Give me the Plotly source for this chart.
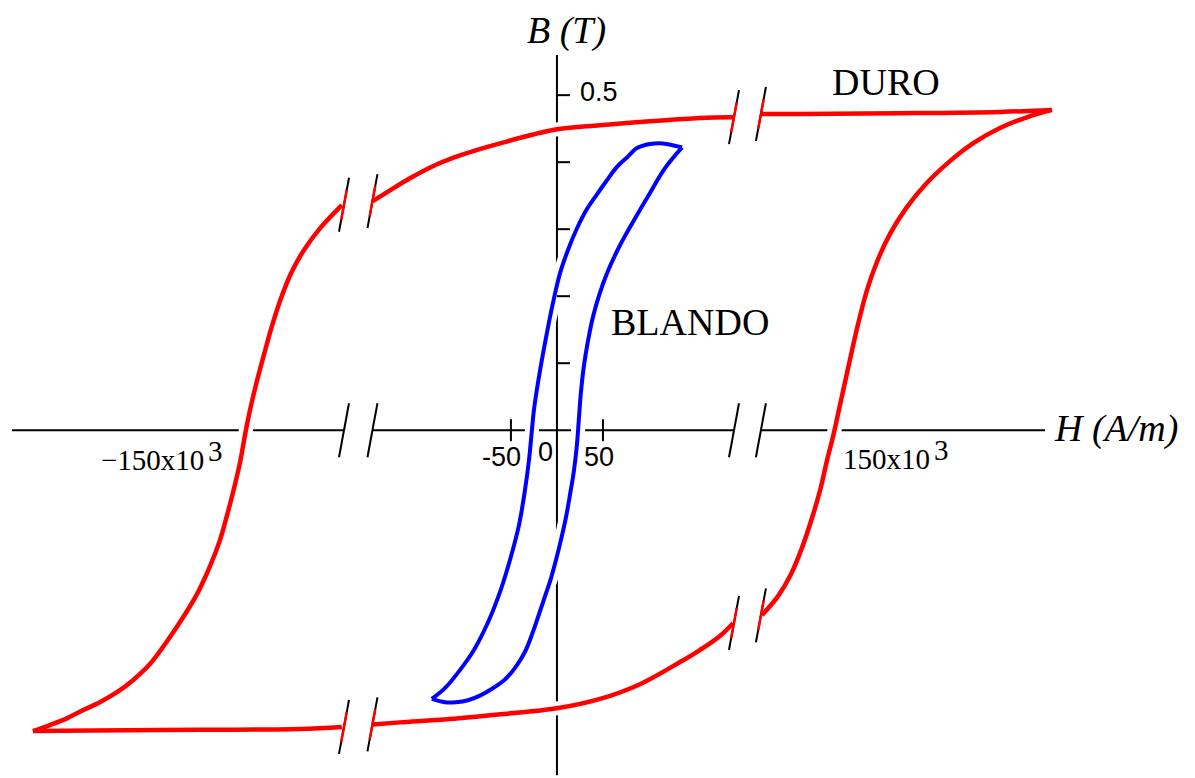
import numpy as np
import plotly.graph_objects as go

# ---- hard material (DURO): H in kA/m, B in T ----
# descending branch, from positive saturation to negative saturation
HARD_DOWN_H = [253.8, 227.2, 175.9, 124.6, 105.1, 90.3, 73.3, 47.7, 22.1, 0.0,
               -29.2, -49.7, -63.6, -75.4, -85.6, -94.4, -110.3, -121.0, -129.7,
               -136.4, -141.5, -146.2, -150.3, -154.4, -157.4, -159.7, -162.3,
               -165.6, -169.0, -172.8, -177.9, -184.1, -190.8, -199.5, -208.7,
               -217.4, -225.6, -234.4, -243.1, -251.3, -260.0, -268.7]
HARD_DOWN_B = [0.478, 0.475, 0.473, 0.472, 0.472, 0.467, 0.466, 0.461, 0.455, 0.449,
               0.428, 0.410, 0.394, 0.376, 0.358, 0.342, 0.336, 0.303, 0.269,
               0.234, 0.197, 0.155, 0.112, 0.067, 0.030, -0.003, -0.045,
               -0.087, -0.125, -0.164, -0.203, -0.242, -0.275, -0.313, -0.349,
               -0.373, -0.391, -0.406, -0.418, -0.430, -0.440, -0.449]
# ascending branch, from negative saturation to positive saturation
HARD_UP_H = [-268.7, -237.9, -183.1, -131.8, -110.3, -94.4, -80.5, -54.9, -29.2, 0.0,
             22.1, 42.6, 63.1, 73.3, 83.6, 90.3, 105.1, 113.3, 120.0, 125.6,
             130.8, 134.9, 138.5, 142.1, 145.1, 148.2, 151.3, 154.9, 159.0,
             164.1, 170.8, 179.0, 188.7, 200.5, 213.3, 227.2, 241.0, 253.8]
HARD_UP_B = [-0.449, -0.448, -0.447, -0.446, -0.443, -0.439, -0.436, -0.431, -0.424, -0.415,
             -0.401, -0.379, -0.346, -0.328, -0.307, -0.288, -0.276, -0.248, -0.215, -0.176,
             -0.131, -0.090, -0.045, -0.003, 0.037, 0.078, 0.119, 0.164, 0.209,
             0.251, 0.293, 0.331, 0.366, 0.399, 0.428, 0.451, 0.467, 0.478]

# ---- soft material (BLANDO): H in A/m, B in T ----
SOFT_DOWN_H = [135.9, 115.2, 101.1, 87.0, 76.1, 65.2, 54.3, 43.5, 32.6, 21.7,
               12.0, 3.3, -4.3, -13.0, -20.7, -25.0, -27.2, -30.4, -34.8, -41.3,
               -51.1, -62.0, -75.0, -90.2, -105.4, -121.7, -135.9]
SOFT_DOWN_B = [0.422, 0.428, 0.427, 0.421, 0.407, 0.393, 0.373, 0.352, 0.330, 0.301,
               0.269, 0.234, 0.190, 0.130, 0.070, 0.030, 0.0, -0.045, -0.090, -0.142,
               -0.194, -0.242, -0.287, -0.328, -0.358, -0.385, -0.401]
SOFT_UP_H = [-135.9, -121.7, -109.8, -96.7, -83.7, -69.6, -56.5, -45.7, -34.8, -26.1,
             -19.6, -13.0, -6.5, -1.1, 4.3, 9.8, 14.1, 18.5, 21.7, 23.9,
             26.1, 29.3, 33.7, 39.1, 45.7, 54.3, 68.5, 84.8, 101.1, 117.4, 135.9]
SOFT_UP_B = [-0.401, -0.406, -0.406, -0.403, -0.396, -0.385, -0.372, -0.355, -0.331, -0.301,
             -0.275, -0.248, -0.221, -0.194, -0.164, -0.130, -0.097, -0.060, -0.022, 0.018,
             0.057, 0.096, 0.133, 0.169, 0.201, 0.234, 0.276, 0.316, 0.354, 0.391, 0.422]

# ---- axes ----
B_TICKS = [0.1, 0.2, 0.3, 0.4, 0.5]
B_TICK_LABEL = "0.5"
SOFT_H_TICKS = [-50, 50]
SOFT_H_TICK_LABELS = ["-50", "50"]
HARD_H_LABELS = ["\u2212150x10", "150x10"]
HARD_H_EXPONENT = "3"

# the H axis runs in kA/m; the soft loop uses a magnified inner scale
SOFT_TO_AXIS = 0.472          # axis units per A/m
BREAKS = [(-109.2, -94.6), (90.8, 104.6)]
X_RANGE = [-285.6, 327.2]
Y_RANGE = [-0.519, 0.642]
X_AXIS_SPAN = [-279.5, 250.3]
Y_AXIS_SPAN = [-0.515, 0.560]

W, H = 1195, 778
KX = W / (X_RANGE[1] - X_RANGE[0])   # px per axis unit
KY = H / (Y_RANGE[1] - Y_RANGE[0])   # px per tesla

RED = "#ff0000"
BLUE = "#0000ff"
SERIF = "Liberation Serif, Times New Roman, serif"
SANS = "Liberation Sans, Arial, sans-serif"


def split_at_breaks(h, b):
    """Insert gaps where a branch jumps across an axis break."""
    xs, ys = [h[0]], [b[0]]
    for i in range(1, len(h)):
        lo, hi = sorted((h[i - 1], h[i]))
        if any(lo <= a and hi >= c for a, c in BREAKS):
            xs.append(None)
            ys.append(None)
        xs.append(h[i])
        ys.append(b[i])
    return xs, ys


hard_branches = [(HARD_DOWN_H, HARD_DOWN_B), (HARD_UP_H, HARD_UP_B)]
soft_branches = [([v * SOFT_TO_AXIS for v in SOFT_DOWN_H], SOFT_DOWN_B),
                 ([v * SOFT_TO_AXIS for v in SOFT_UP_H], SOFT_UP_B)]

curves = []
for h, b in hard_branches:
    xs, ys = split_at_breaks(h, b)
    curves.append((xs, ys, RED, 4.5))
for h, b in soft_branches:
    curves.append((h, b, BLUE, 4))

fig = go.Figure()
# white halo under each loop so the axes stop short of the curves
for xs, ys, _, _ in curves:
    fig.add_trace(go.Scatter(x=xs, y=ys, mode="lines", hoverinfo="skip",
                             line=dict(color="white", width=14, shape="spline", smoothing=1.0)))
for xs, ys, col, wd in curves:
    fig.add_trace(go.Scatter(x=xs, y=ys, mode="lines", hoverinfo="skip",
                             line=dict(color=col, width=wd, shape="spline", smoothing=1.0)))

shapes = []


def seg(x0, y0, x1, y1, color="black", width=2, layer="above"):
    shapes.append(dict(type="line", xref="x", yref="y", x0=x0, y0=y0, x1=x1, y1=y1,
                       line=dict(color=color, width=width), layer=layer))


# H axis, interrupted at the breaks
edges = [X_AXIS_SPAN[0]] + [v for br in BREAKS for v in br] + [X_AXIS_SPAN[1]]
for i in range(0, len(edges), 2):
    seg(edges[i], 0, edges[i + 1], 0, layer="below")
# B axis
seg(0, Y_AXIS_SPAN[0], 0, Y_AXIS_SPAN[1], layer="below")

# B ticks (to the right of the axis)
for t in B_TICKS:
    seg(0, t, 13 / KX, t)
# soft-scale H ticks
for t in SOFT_H_TICKS:
    seg(t * SOFT_TO_AXIS, -11 / KY, t * SOFT_TO_AXIS, 11 / KY)

# break marks "/ /" on the axis and on the hard loop
sdx, sdy = 5 / KX, 27 / KY
for a, c in BREAKS:
    for cx in (a, c):
        seg(cx - sdx, -sdy, cx + sdx, sdy)
        for h, b in hard_branches:
            order = np.argsort(h)
            yc = float(np.interp(cx, np.array(h)[order], np.array(b)[order]))
            seg(cx - sdx, yc - sdy, cx + sdx, yc + sdy)
            r = 0.55
            seg(cx - sdx * r, yc - sdy * r, cx + sdx * r, yc + sdy * r, color=RED, width=2.5)

annotations = []


def label(x, y, text, family, size, xanchor="center", yanchor="middle", xshift=0):
    annotations.append(dict(x=x, y=y, xref="x", yref="y", text=text, showarrow=False,
                            xanchor=xanchor, yanchor=yanchor, xshift=xshift,
                            font=dict(family=family, size=size, color="black")))


label(5.1, 0.597, "<i>B (T)</i>", SERIF, 38)
label(253.8, 0.003, "<i>H (A/m)</i>", SERIF, 38, xanchor="left")
label(168.7, 0.520, "DURO", SERIF, 38)
label(68.2, 0.161, "BLANDO", SERIF, 38)
label(10.8, 0.504, B_TICK_LABEL, SANS, 27, xanchor="left")
for t, txt, dx in zip(SOFT_H_TICKS, SOFT_H_TICK_LABELS, (-9, -4)):
    label(t * SOFT_TO_AXIS, -0.040, txt, SANS, 27, xshift=dx)
label(-5.9, -0.033, "0", SANS, 27)
label(-180.0, -0.044, HARD_H_LABELS[0], SERIF, 29, xanchor="right")
label(-180.0, -0.031, HARD_H_EXPONENT, SERIF, 29, xanchor="left")
label(192.3, -0.043, HARD_H_LABELS[1], SERIF, 29, xanchor="right")
label(192.3, -0.030, HARD_H_EXPONENT, SERIF, 29, xanchor="left")

fig.update_layout(
    width=W, height=H,
    margin=dict(l=0, r=0, t=0, b=0),
    paper_bgcolor="white", plot_bgcolor="white",
    showlegend=False,
    xaxis=dict(range=X_RANGE, visible=False, fixedrange=True),
    yaxis=dict(range=Y_RANGE, visible=False, fixedrange=True),
    shapes=shapes,
    annotations=annotations,
)

fig.write_html("out.html")
